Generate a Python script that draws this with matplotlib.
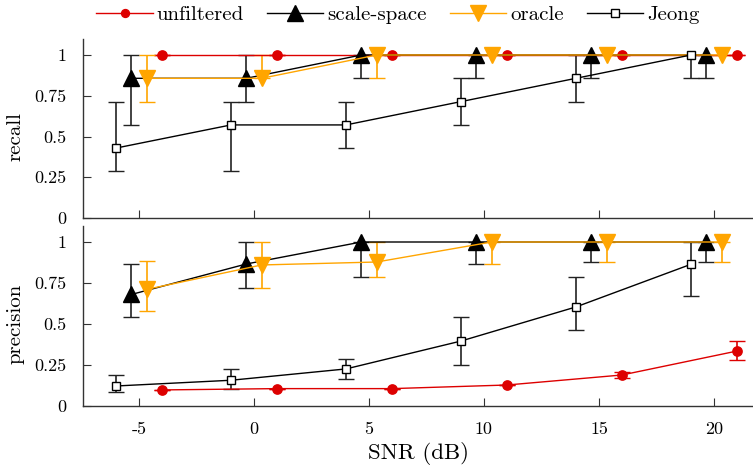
import matplotlib
matplotlib.use("Agg")
import matplotlib.pyplot as plt
from matplotlib.lines import Line2D
import numpy as np

plt.rcParams['font.family'] = ['cmr10', 'DejaVu Serif']
plt.rcParams['axes.unicode_minus'] = False
plt.rcParams['mathtext.fontset'] = 'cm'

snr = np.array([-5, 0, 5, 10, 15, 20])
xtick_labels = ["-5", "0", "5", "10", "15", "20"]
ytick_vals = [0, 0.25, 0.5, 0.75, 1]
ytick_labels = ["0", "0.25", "0.5", "0.75", "1"]

# Recall
unf_rec = [1, 1, 1, 1, 1, 1]
unf_rec_lo = [1, 1, 1, 1, 1, 1]
unf_rec_hi = [1, 1, 1, 1, 1, 1]
ss_rec = [0.857, 0.857, 1, 1, 1, 1]
ss_rec_lo = [0.571, 0.714, 0.857, 0.857, 0.857, 0.857]
ss_rec_hi = [1, 1, 1, 1, 1, 1]
or_rec = [0.857, 0.857, 1, 1, 1, 1]
or_rec_lo = [0.714, 0.857, 0.857, 1, 1, 1]
or_rec_hi = [1, 1, 1, 1, 1, 1]
je_rec = [0.429, 0.571, 0.571, 0.714, 0.857, 1.0]
je_rec_lo = [0.286, 0.286, 0.429, 0.571, 0.714, 0.857]
je_rec_hi = [0.714, 0.714, 0.714, 0.857, 1.0, 1.0]

# Precision
unf_pre = [0.098, 0.106, 0.106, 0.128, 0.189, 0.335]
unf_pre_lo = [0.098, 0.106, 0.106, 0.128, 0.169, 0.279]
unf_pre_hi = [0.098, 0.106, 0.106, 0.128, 0.209, 0.396]
ss_pre = [0.68, 0.866, 1, 1, 1, 1]
ss_pre_lo = [0.545, 0.72, 0.786, 0.864, 0.88, 0.88]
ss_pre_hi = [0.866, 1, 1, 1, 1, 1]
or_pre = [0.711, 0.86, 0.878, 1, 1, 1]
or_pre_lo = [0.58, 0.719, 0.786, 0.864, 0.88, 0.88]
or_pre_hi = [0.882, 1, 1, 1, 1, 1]
je_pre = [0.122, 0.157, 0.226, 0.396, 0.604, 0.864]
je_pre_lo = [0.088, 0.104, 0.165, 0.25, 0.463, 0.673]
je_pre_hi = [0.189, 0.224, 0.285, 0.545, 0.785, 1.0]

RED = '#dd0000'
ORANGE = '#ffa500'
BLACK = '#000000'

W, H = 753, 468
fig = plt.figure(figsize=(W / 100, H / 100), dpi=100)

left = 83 / W
width = (W - 83) / W
ytop = 1.1
ax1 = fig.add_axes([left, (H - 218) / H, width, 163 * ytop / H])
ax2 = fig.add_axes([left, (H - 406) / H, width, 164 * ytop / H])

series_style = [
    # name, offset, color, marker, ms, mfc, ecolor
    ("unfiltered", 1.0, RED, 'o', 6.7, RED, RED),
    ("scale-space", -1/3, BLACK, '^', 11, BLACK, '#222222'),
    ("oracle", 1/3, ORANGE, 'v', 11, ORANGE, ORANGE),
    ("Jeong", -1.0, BLACK, 's', 6.3, 'white', '#222222'),
]

rec_data = [(unf_rec, unf_rec_lo, unf_rec_hi), (ss_rec, ss_rec_lo, ss_rec_hi),
            (or_rec, or_rec_lo, or_rec_hi), (je_rec, je_rec_lo, je_rec_hi)]
pre_data = [(unf_pre, unf_pre_lo, unf_pre_hi), (ss_pre, ss_pre_lo, ss_pre_hi),
            (or_pre, or_pre_lo, or_pre_hi), (je_pre, je_pre_lo, je_pre_hi)]

for ax, data in ((ax1, rec_data), (ax2, pre_data)):
    for (name, off, col, mk, ms, mfc, ecol), (v, lo, hi) in zip(series_style, data):
        v = np.array(v); lo = np.array(lo); hi = np.array(hi)
        yerr = np.vstack([v - lo, hi - v])
        ax.errorbar(snr + off, v, yerr=yerr, color=col, marker=mk, ms=ms,
                    mfc=mfc, mec=col, mew=1.0, lw=1.0, ecolor=ecol,
                    elinewidth=1.2, capsize=6, capthick=1.2, label=name,
                    zorder=3)

for ax, lab in ((ax1, "recall"), (ax2, "precision")):
    ax.set_xlim(-7.435, 21.70)
    ax.set_ylim(0, ytop)
    ax.set_yticks(ytick_vals)
    ax.set_yticklabels(ytick_labels)
    ax.set_xticks(snr)
    for s in ('top', 'right'):
        ax.spines[s].set_visible(False)
    for s in ('left', 'bottom'):
        ax.spines[s].set_color('#333333')
        ax.spines[s].set_linewidth(1.0)
    ax.tick_params(direction='in', length=6, width=0.8, color='#333333',
                   labelsize=13, pad=12)
    ax.set_ylabel(lab, fontsize=15)
    ax.yaxis.set_label_coords((25 - 83) / (W - 83), 0.5 / ytop)

ax1.set_xticklabels([])
ax2.set_xticklabels(xtick_labels)
ax2.tick_params(axis='x', pad=11)
ax2.set_xlabel("SNR (dB)", fontsize=16.5, labelpad=4)

# legend (lines + markers only)
leg_handles = [Line2D([], [], color=c, marker=m, ms=ms * (0.85 if m == 'o' else 1.0),
                      mfc=mfc, mec=c, lw=1.0)
               for (n, o, c, m, ms, mfc, e) in series_style]
fig.legend(leg_handles, [s[0] for s in series_style], loc='center',
           bbox_to_anchor=(398 / W, 1 - 15 / H), ncol=4, frameon=False,
           fontsize=15, handlelength=2.7, handletextpad=0.2, columnspacing=1.1,
           borderpad=0)

fig.savefig("out.png", dpi=100)
